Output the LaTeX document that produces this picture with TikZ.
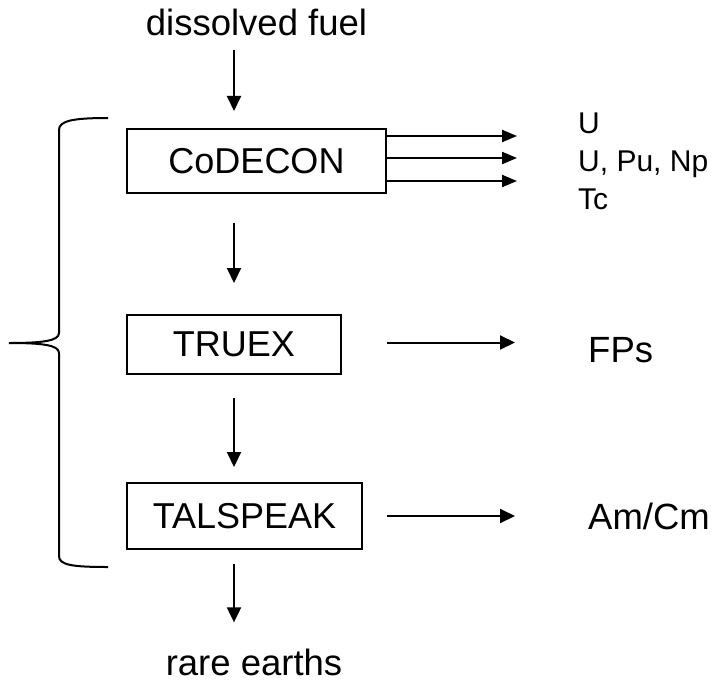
\documentclass[tikz,border=0pt]{standalone}
\usepackage{fontspec}
\setmainfont{Liberation Sans}
\usetikzlibrary{arrows.meta, positioning, calc}

\begin{document}
\begin{tikzpicture}[x=1pt, y=-1pt, >={Triangle[length=15pt, width=14pt]},
  stage/.style={draw, line width=2pt, inner sep=0pt,
                font=\fontsize{36}{40}\selectfont},
  bigtxt/.style={inner sep=0pt, anchor=base, font=\fontsize{36.5}{40}\selectfont},
  smalltxt/.style={inner sep=0pt, anchor=base west,
                   font=\fontsize{30}{34}\selectfont},
  flow/.style={->, line width=2pt}]
  \useasboundingbox (0,0) rectangle (717,682);
  \coordinate (col) at (234,0);

  % feed and raffinate
  \node[bigtxt] (fuel) at (256.5,36) {dissolved fuel};
  \node[bigtxt] (rare) at (254,675) {rare earths};

  % the three separation stages
  \node[stage, minimum width=259pt, minimum height=64pt] (codecon) at (256.5,161) {CoDECON};
  \node[stage, minimum width=214pt, minimum height=59pt] (truex) at (234,344.5) {TRUEX};
  \node[stage, minimum width=235pt, minimum height=66pt] (talspeak) at (244.5,516) {TALSPEAK};

  % products
  \node[smalltxt] (pu) at (578,133) {U};
  \node[smalltxt] (upn) at (578,171) {U, Pu, Np};
  \node[smalltxt] (tc) at (578,209) {Tc};
  \node[bigtxt, anchor=base west] (fps) at (588,362) {FPs};
  \node[bigtxt, anchor=base west] (amcm) at (588,529) {Am/Cm};

  % main flow down the column
  \draw[flow] ([yshift=-13pt]fuel.south -| col) -- ([yshift=17pt]codecon.north -| col);
  \draw[flow] ([yshift=-29pt]codecon.south -| col) -- ([yshift=31pt]truex.north -| col);
  \draw[flow] ([yshift=-23pt]truex.south -| col) -- ([yshift=15pt]talspeak.north -| col);
  \draw[flow] ([yshift=-14pt]talspeak.south -| col) -- ([yshift=26pt]rare.north -| col);

  % side streams
  \coordinate (out1) at (517,136);
  \coordinate (out2) at (517,158);
  \coordinate (out3) at (517,181);
  \foreach \o in {out1, out2, out3}
    \draw[flow, >={Triangle[length=15pt, width=12pt]}] (codecon.east |- \o) -- (\o);
  \draw[flow] ([xshift=45pt, yshift=2pt]truex.east) -- ([xshift=-73pt, yshift=2pt]fps.west |- truex.east);
  \draw[flow] ([xshift=24pt]talspeak.east) -- ([xshift=-73pt]amcm.west |- talspeak.east);

  % brace round the whole process
  \draw[line width=2pt]
    (108,118) .. controls (72,118) and (59,121) .. (59,130) -- (59,333)
    .. controls (59,341) and (42,343) .. (9,343)
    .. controls (42,343) and (59,345) .. (59,353) -- (59,556)
    .. controls (59,565) and (72,567) .. (108,567);
\end{tikzpicture}
\end{document}
